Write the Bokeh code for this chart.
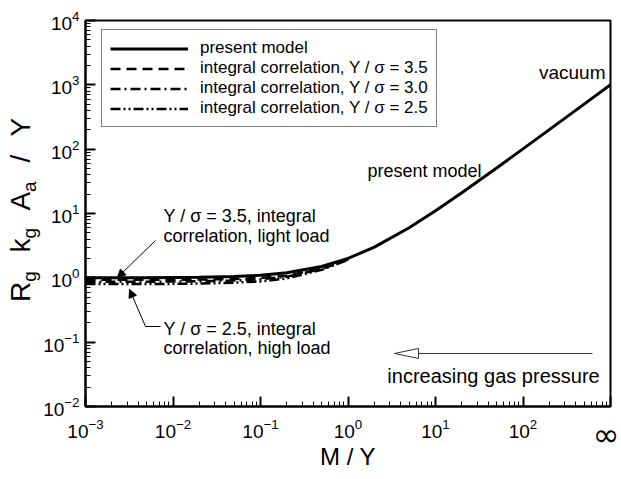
from bokeh.plotting import figure
from bokeh.layouts import row
from bokeh.models import (Label, Legend, LegendItem, Arrow, NormalHead, FixedTicker, Div)
from bokeh.embed import file_html
from bokeh.resources import INLINE

# ---------------- data ----------------
model_x = [1e-3, 2e-3, 5e-3, 1e-2, 2e-2, 5e-2, 0.1, 0.2, 0.5, 1.0, 2.0, 5.0,
           10.0, 20.0, 50.0, 100.0, 200.0, 500.0, 1000.0]
model_y = [1.0, 1.0, 1.0, 1.01, 1.02, 1.05, 1.1, 1.2, 1.5, 2.0, 3.0, 6.0,
           11.0, 21.0, 51.0, 101.0, 201.0, 501.0, 1000.0]

corr_x = [1e-3, 2e-3, 5e-3, 1e-2, 2e-2, 5e-2, 0.1, 0.2, 0.5, 1.0]
corr_35 = [0.93, 0.93, 0.93, 0.935, 0.94, 0.96, 1.0, 1.08, 1.4, 1.95]
corr_30 = [0.87, 0.87, 0.87, 0.875, 0.885, 0.91, 0.95, 1.04, 1.37, 1.93]
corr_25 = [0.80, 0.80, 0.80, 0.805, 0.815, 0.84, 0.88, 0.98, 1.33, 1.90]

x_tick_exps = [-3, -2, -1, 0, 1, 2, 3]
x_inf_label = "\u221e"          # label of the last x tick (M/Y -> infinity)
x_tick_overrides = {1000: ""}   # drawn larger below, like the reference
y_tick_exps = [-2, -1, 0, 1, 2, 3, 4]

legend_labels = ["present model",
                 "integral correlation, Y / \u03c3 = 3.5",
                 "integral correlation, Y / \u03c3 = 3.0",
                 "integral correlation, Y / \u03c3 = 2.5"]

FONT = "Liberation Sans"
TOTAL_W, TOTAL_H = 621, 479
LEFT_W = 34
FRAME_LEFT = 85

# ---------------- left strip: y-axis title and the large infinity tick label ----------------
sub = ('<sub style="font-size:19px;vertical-align:-6px;line-height:0;">%s</sub>')
title_html = (
    '<div style="position:absolute;left:7px;top:302px;transform:rotate(-90deg);'
    'transform-origin:0 0;white-space:nowrap;font-family:\'Liberation Sans\';'
    'font-size:28px;line-height:28px;word-spacing:11px;color:black;">'
    'R' + sub % 'g' + ' k' + sub % 'g' + ' A' + sub % 'a' + ' / Y</div>'
    '<div style="position:absolute;left:606px;top:435px;transform:translate(-50%,-50%);'
    'white-space:nowrap;font-family:\'DejaVu Sans\';font-size:32px;line-height:32px;'
    'color:black;">' + x_inf_label + '</div>')
strip = Div(text=title_html, width=LEFT_W, height=TOTAL_H, margin=0,
            styles={"position": "relative", "overflow": "visible"})

# ---------------- main plot ----------------
p = figure(width=TOTAL_W - LEFT_W, height=TOTAL_H, x_axis_type="log", y_axis_type="log",
           x_range=(1e-3, 1e3), y_range=(1e-2, 1e4),
           output_backend="svg", toolbar_location=None,
           min_border_left=FRAME_LEFT - LEFT_W, min_border_right=11,
           min_border_top=20, min_border_bottom=73)
p.xgrid.visible = False
p.ygrid.visible = False
p.outline_line_color = "black"
p.outline_line_width = 2
p.outline_line_alpha = 1.0
p.border_fill_alpha = 0.0

for ax, exps in ((p.xaxis, x_tick_exps), (p.yaxis, y_tick_exps)):
    ax.ticker = FixedTicker(ticks=[10.0 ** e for e in exps],
                            minor_ticks=[m * 10.0 ** e for e in exps[:-1] for m in range(2, 10)])
    ax.major_tick_in = 10
    ax.major_tick_out = 0
    ax.minor_tick_in = 5
    ax.minor_tick_out = 0
    ax.major_tick_line_width = 2
    ax.minor_tick_line_width = 1
    ax.axis_line_width = 2
    ax.major_label_text_font = FONT
    ax.major_label_text_font_size = "19px"
    ax.major_label_text_color = "black"

p.xaxis.major_label_overrides = x_tick_overrides
p.xaxis.major_label_standoff = 12
p.yaxis.major_label_standoff = 6
p.xaxis.axis_label = "M / Y"
p.xaxis.axis_label_text_font = FONT
p.xaxis.axis_label_text_font_size = "24px"
p.xaxis.axis_label_text_font_style = "normal"
p.xaxis.axis_label_text_color = "black"
p.xaxis.axis_label_standoff = 2

# ---------------- curves ----------------
r_model = p.line(model_x, model_y, line_color="black", line_width=3)
r35 = p.line(corr_x, corr_35, line_color="black", line_width=2.5, line_dash="10 6")
r30 = p.line(corr_x, corr_30, line_color="black", line_width=2.5, line_dash="10 4 2 4")
r25 = p.line(corr_x, corr_25, line_color="black", line_width=2.5, line_dash="10 3 2 3 2 3")

legend = Legend(items=[LegendItem(label=legend_labels[0], renderers=[r_model]),
                       LegendItem(label=legend_labels[1], renderers=[r35]),
                       LegendItem(label=legend_labels[2], renderers=[r30]),
                       LegendItem(label=legend_labels[3], renderers=[r25])],
                location=(16, 279), padding=8, spacing=0, margin=0,
                label_height=19, glyph_height=19, glyph_width=78,
                label_standoff=12, label_text_font=FONT,
                label_text_font_size="17px", label_text_color="black",
                border_line_color="black", border_line_width=1,
                background_fill_color="white", background_fill_alpha=1.0)
p.add_layout(legend)

# ---------------- annotations ----------------
def note(x, y, text, size=18, align="left", baseline="middle"):
    p.add_layout(Label(x=x, y=y, text=text, text_font=FONT, text_font_size=f"{size}px",
                       text_color="black", text_align=align, text_baseline=baseline))

note(877, 1556, "vacuum", 19, align="right")
note(1.67, 46.6, "present model", 18)
note(0.00778, 8.99, "Y / \u03c3 = 3.5, integral", 18)
note(0.00778, 4.55, "correlation, light load", 18)
note(0.00778, 0.160, "Y / \u03c3 = 2.5, integral", 18)
note(0.00778, 0.080, "correlation, high load", 18)
note(46.0, 0.0303, "increasing gas pressure", 20, align="center")

p.add_layout(Arrow(x_start=0.0063, y_start=3.8, x_end=0.00232, y_end=1.01,
                   line_width=1, line_color="black",
                   end=NormalHead(size=8, fill_color="black", line_color="black")))
p.add_layout(Arrow(x_start=0.00485, y_start=0.1753, x_end=0.00319, y_end=0.659,
                   line_width=1, line_color="black",
                   end=NormalHead(size=8, fill_color="black", line_color="black")))
p.line([0.00485, 0.00720], [0.1753, 0.1753], line_color="black", line_width=1)

# increasing-pressure arrow: shaft + open head
p.line([622.0, 6.40], [0.0667, 0.0667], line_color="#333333", line_width=1)
p.patch([3.40, 6.40, 6.40], [0.0667, 0.0798, 0.0558], fill_color="white",
        line_color="#333333", line_width=1)

layout = row(strip, p, spacing=0)
open("out.html", "w").write(file_html(layout, INLINE))
